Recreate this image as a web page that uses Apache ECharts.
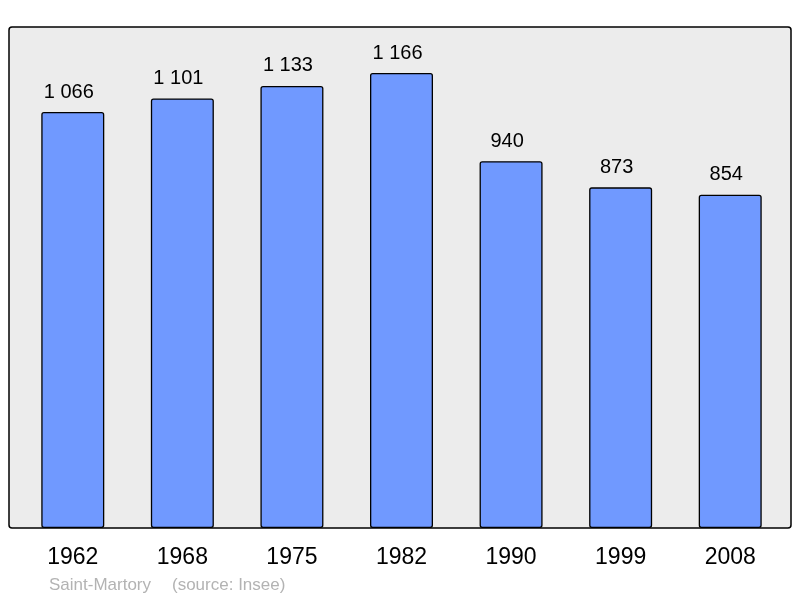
<!DOCTYPE html>
<html>
<head>
<meta charset="utf-8">
<script src="https://cdn.jsdelivr.net/npm/echarts@6/dist/echarts.min.js"></script>
<style>
  html, body { margin: 0; padding: 0; background: #fff; }
  #chart { width: 800px; height: 598px; }
</style>
</head>
<body>
<div id="chart"></div>
<script>
// population per census year
const years = ['1962', '1968', '1975', '1982', '1990', '1999', '2008']
const population = [1066, 1101, 1133, 1166, 940, 873, 854]
const place = 'Saint-Martory'
const source = '(source: Insee)'

const fmt = v => String(v).replace(/\B(?=(\d{3})+(?!\d))/g, ' ')
const footFont = '17px "Liberation Sans", Arial, sans-serif'

const myChart = echarts.init(document.getElementById('chart'))

myChart.setOption({
  animation: false,
  textStyle: { fontFamily: '"Liberation Sans", Arial, sans-serif' },
  graphic: [
    {
      type: 'rect',
      z: -10,
      shape: { x: 9, y: 27, width: 782, height: 501, r: 3 },
      style: { fill: '#ececec', stroke: '#000', lineWidth: 1.5 }
    },
    {
      type: 'text',
      left: 49,
      top: 577,
      style: { text: place, fill: '#b3b3b3', font: footFont }
    },
    {
      type: 'text',
      left: 172,
      top: 577,
      style: { text: source, fill: '#b3b3b3', font: footFont }
    }
  ],
  grid: { left: 18, right: 15, top: 27, bottom: 70 },
  xAxis: {
    type: 'category',
    data: years,
    axisLine: { show: false },
    axisTick: { show: false },
    axisLabel: { margin: 18, fontSize: 23, color: '#000' }
  },
  yAxis: {
    type: 'value',
    min: 0,
    max: 1284,
    show: false,
    splitLine: { show: false }
  },
  series: [
    {
      type: 'bar',
      data: population,
      barWidth: 63,
      itemStyle: {
        color: '#7099ff',
        borderColor: '#000',
        borderWidth: 1.3,
        borderRadius: 2
      },
      label: {
        show: true,
        position: 'top',
        distance: 10,
        offset: [-4, 0],
        fontSize: 20,
        color: '#000',
        formatter: p => fmt(p.value)
      }
    }
  ]
})
</script>
</body>
</html>
